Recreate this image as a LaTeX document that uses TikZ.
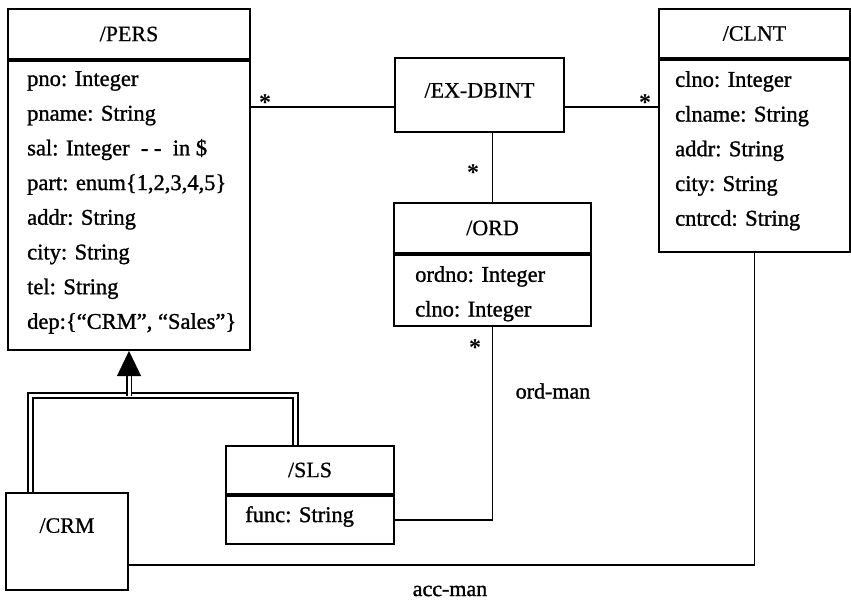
\documentclass[tikz,border=0pt]{standalone}
\usepackage{fontspec}
\setmainfont{Liberation Serif}
\newfontfamily\heavyserif{Liberation Serif}[FakeBold=1.2]
\newfontfamily\midserif{Liberation Serif}[FakeBold=0.6]
\usetikzlibrary{positioning,arrows.meta}
\newcommand\clsfont{\midserif\fontsize{22}{26}\selectfont}
\newcommand\attfont{\heavyserif\fontsize{22.5}{34.7}\selectfont}
\tikzset{
  box/.style={draw,line width=2pt,inner sep=0pt,anchor=north west},
  head/.style={box,font=\clsfont},
  attrs/.style={inner sep=0pt,anchor=north west,align=left,font=\attfont},
  assoc/.style={line width=1.8pt},
  genline/.style={double,line width=1.7pt,double distance=3pt},
  mult/.style={inner sep=0pt,font=\fontsize{24}{24}\selectfont\bfseries},
  role/.style={inner sep=0pt,font=\heavyserif\fontsize{22}{26}\selectfont}
}
\begin{document}
\begin{tikzpicture}[x=1pt,y=-1pt]
\useasboundingbox (0,0) rectangle (851,605);

% classes
\node[head,minimum width=242pt,minimum height=50pt] (pers) at (7,8) {/PERS};
\node[box,minimum width=242pt,minimum height=289pt,below right=0pt and 0pt of pers.south west] (persbody) {};
\node[attrs,below right=11pt and 20pt of persbody.north west] (persattr) {pno: Integer\\ pname: String\\ sal: Integer\ \ - -\ \ in \$\\ part: enum\{1,2,3,4,5\}\\ addr: String\\ city: String\\ tel: String\\ dep:\{“CRM”, “Sales”\}};

\node[head,minimum width=169pt,minimum height=74pt,text height=15pt,text depth=10pt] (exdb) at (394,57) {/EX-DBINT};

\node[head,minimum width=191pt,minimum height=49pt] (clnt) at (658,8) {/CLNT};
\node[box,minimum width=191pt,minimum height=192pt,below right=0pt and 0pt of clnt.south west] (clntbody) {};
\node[attrs,below right=12pt and 17pt of clntbody.north west] (clntattr) {clno: Integer\\ clname: String\\ addr: String\\ city: String\\ cntrcd: String};

\node[head,minimum width=197pt,minimum height=50pt] (ord) at (393,202) {/ORD};
\node[box,minimum width=197pt,minimum height=71pt,below right=0pt and 0pt of ord.south west] (ordbody) {};
\node[attrs,below right=12pt and 22pt of ordbody.north west] (ordattr) {ordno: Integer\\ clno: Integer};

\node[head,minimum width=168pt,minimum height=48pt] (sls) at (225,445) {/SLS};
\node[box,minimum width=168pt,minimum height=48pt,below right=0pt and 0pt of sls.south west] (slsbody) {};
\node[attrs,below right=11pt and 20pt of slsbody.north west] (slsattr) {func: String};

\node[box,minimum width=122pt,minimum height=97pt] (crm) at (5,492) {};
\node[inner sep=0pt,font=\clsfont,below=26pt of crm.north] (crmname) {/CRM};

% associations
\draw[assoc] (exdb.188.7) -- (exdb.188.7 -| persbody.east);
\draw[assoc] (exdb.-8.7) -- (exdb.-8.7 -| clntbody.west);
\draw[assoc] (exdb.south -| ord.north) -- (ord.north);
\draw[assoc] (ordbody.south) |- (slsbody.east);
\draw[assoc] (clntbody.south) |- (crm.-21.9);

\node[mult] (m1) at (265,103) {*};
\node[mult] (m2) at (645,103) {*};
\node[mult] (m3) at (473,173) {*};
\node[mult] (m4) at (475,348) {*};
\node[role] (ordman) at (553,391) {ord-man};
\node[role] (accman) at (450,591) {acc-man};

% generalization
\coordinate (genL) at (30.5,395.5);
\coordinate (genR) at (295.5,395.5);
\coordinate (gen) at (persbody.south |- genL);
\draw[genline] (crm.north -| genL) -- (genL) -- (genR) -- (genR |- sls.north);
\draw[genline,shorten >=25pt] (gen) -- (persbody.south);
\draw[-{Triangle[width=24pt,length=25pt]},shorten <=23pt] (gen) -- (persbody.south);

\end{tikzpicture}
\end{document}
